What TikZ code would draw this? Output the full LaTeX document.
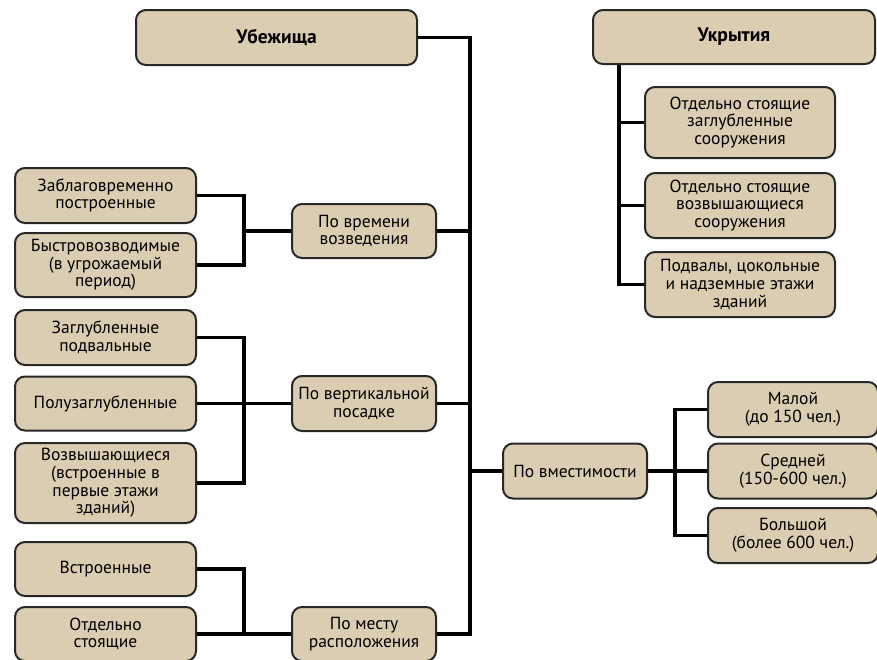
\documentclass[tikz,border=0pt]{standalone}
\usepackage{xcolor}
\usepackage{fontspec}
\setmainfont{PT Sans}
\usepackage{tikz}
\usetikzlibrary{positioning,calc}

\begin{document}
\begin{tikzpicture}[x=1pt,y=-1pt,font=\fontsize{17.5}{17.6}\selectfont]
	\definecolor{boxcolor}{RGB}{219,205,178}
	\definecolor{edgecolor}{RGB}{40,40,40}
	\tikzstyle{item}=[rectangle, rounded corners=10pt, draw=edgecolor, line width=2pt, fill=boxcolor, align=center, inner sep=1pt]
	\tikzstyle{title}=[item, font=\fontsize{19.5}{20}\selectfont\bfseries]
	\tikzstyle{link}=[draw=black, line width=3.4pt]
	\def\leftw{181}
	\def\midw{144}

	% Background and frame
	\fill[white] (0,0) rectangle (877,659);
	\clip (0,0) rectangle (877,659);

	% Draw the two heads
	\node[title, minimum width=281, minimum height=55] (ubezh) at (276.5,37.5) {Убежища};
	\node[title, minimum width=282, minimum height=54] (ukryt) at (734,37) {Укрытия};

	% Draw the kinds of covers
	\foreach \name/\y/\h/\txt in {t1/122.5/71/{Отдельно стоящие\\заглубленные\\сооружения},
	                              t2/205.5/65/{Отдельно стоящие\\возвышающиеся\\сооружения},
	                              t3/284.5/65/{Подвалы, цокольные\\и надземные этажи\\зданий}}
	\node[item, minimum width=190, minimum height=\h] (\name) at (740,\y) {\txt};

	% Draw the middle nodes
	\node[item, minimum width=\midw, minimum height=54] (povrem) at (364,231) {По времени\\возведения};
	\node[item, minimum width=\midw, minimum height=55] (povert) at (364,403.5) {По вертикальной\\посадке};
	\node[item, minimum width=\midw, minimum height=54] (pomestu) at (364,634) {По месту\\расположения};
	\node[item, minimum width=\midw, minimum height=55] (povmest) at (575,471) {По вместимости};

	% Draw the left nodes
	\foreach \name/\y/\h/\txt in {zabl/195.5/55/{Заблаговременно\\построенные},
	                              bystr/265/64/{Быстровозводимые\\(в угрожаемый\\период)},
	                              zagl/337.5/55/{Заглубленные\\подвальные},
	                              poluz/403.5/54/{Полузаглубленные},
	                              vozv/483/80/{Возвышающиеся\\(встроенные в\\первые этажи\\зданий)},
	                              vstr/569/54/{Встроенные},
	                              otd/634/54/{Отдельно\\стоящие}}
	\node[item, minimum width=\leftw, minimum height=\h] (\name) at (105.5,\y) {\txt};

	% Draw the right nodes
	\foreach \name/\y/\txt in {mal/409.5/{Малой\\(до 150 чел.)},
	                           sred/471/{Средней\\(150-600 чел.)},
	                           bolsh/535.5/{Большой\\(более 600 чел.)}}
	\node[item, minimum width=170, minimum height=55] (\name) at (793,\y) {\txt};

	% Bus lines
	\coordinate (trunk) at (470,0);
	\coordinate (lbus) at (244,0);
	\coordinate (rbus) at (675,0);
	\coordinate (ubus) at (619,0);

	% Connect the main trunk
	\path[link] (ubezh.east) -| (trunk |- pomestu.east) -- (pomestu.east);
	\foreach \source in {povrem,povert}
	 \path[link] (\source.east) -- (trunk |- \source.east);
	\path[link] (trunk |- povmest.west) -- (povmest.west);

	% Connect the left groups
	\path[link] (zabl.east) -| (lbus |- bystr.east) -- (bystr.east);
	\path[link] (lbus |- povrem.west) -- (povrem.west);
	\path[link] (zagl.east) -| (lbus |- vozv.east) -- (vozv.east);
	\path[link] (poluz.east) -- (povert.west);
	\path[link] (vstr.east) -| (lbus |- otd.east);
	\path[link] (otd.east) -- (pomestu.west);

	% Connect the capacity group
	\path[link] (mal.west) -| (rbus |- bolsh.west) -- (bolsh.west);
	\path[link] (povmest.east) -- (sred.west);

	% Connect the covers
	\path[link] (ubus |- ukryt.south) |- (t3.west);
	\foreach \dest in {t1,t2}
	 \path[link] (ubus |- \dest.west) -- (\dest.west);
\end{tikzpicture}
\end{document}
